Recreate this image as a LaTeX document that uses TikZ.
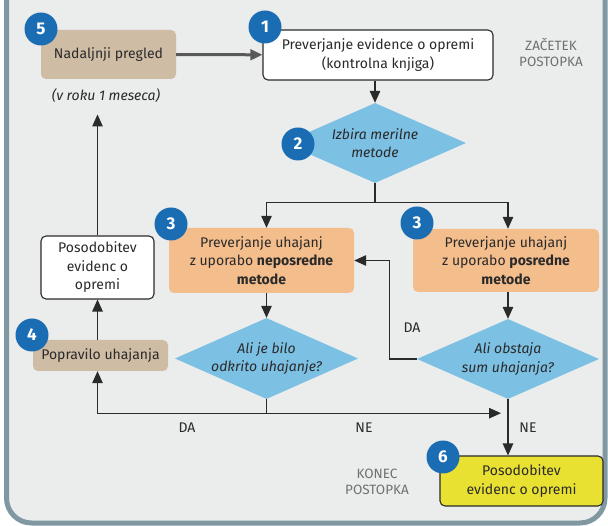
\documentclass[tikz,border=0pt]{standalone}
\usepackage{fontspec}
\setmainfont{Fira Sans}
\usetikzlibrary{arrows.meta}
\usetikzlibrary{shapes.geometric}

\definecolor{panel}{HTML}{EBECEC}
\definecolor{rim}{HTML}{7F98A2}
\definecolor{badgeblue}{HTML}{1A6DB3}
\definecolor{qblue}{HTML}{7CC0E4}
\definecolor{peach}{HTML}{F4BD8C}
\definecolor{tan}{HTML}{CEBCA5}
\definecolor{lemon}{HTML}{E9E132}
\definecolor{ink}{HTML}{2A2A2A}
\definecolor{mute}{HTML}{707070}

\tikzset{
  txt/.style={font=\fontsize{14}{18.5}\selectfont, text=ink, align=center},
  plain/.style={txt, draw=ink, line width=1.1pt, fill=white, rounded corners=5pt, inner sep=0pt},
  soft/.style={txt, fill=tan, rounded corners=5pt, inner sep=0pt},
  check/.style={txt, fill=peach, rounded corners=5pt, inner sep=0pt},
  final/.style={txt, draw=ink, line width=1.1pt, fill=lemon, rounded corners=5pt, inner sep=0pt},
  query/.style={diamond, fill=qblue, inner sep=0pt},
  qtext/.style={txt, font=\itshape\fontsize{14}{18.5}\selectfont},
  stage/.style={font=\fontsize{13.5}{16}\selectfont, text=mute, align=center},
  badge/.style={circle, fill=badgeblue, text=white, inner sep=0pt, minimum size=33pt,
    font=\bfseries\fontsize{17}{17}\selectfont},
  flow/.style={draw=ink, line width=1.2pt, ->}
}

\begin{document}
\begin{tikzpicture}[x=1pt, y=-1pt, >={Triangle[length=12pt,width=10.5pt]}]
        \useasboundingbox (0,0) rectangle (608,526);
        \begin{scope}
            \clip (0,0) rectangle (608,526);
            \draw[line width=5pt, draw=rim, fill=panel, rounded corners=25pt] (6.5,-40) rectangle (605,523);
        \end{scope}

        \draw (378,55) node[plain, minimum width=230pt, minimum height=50pt] (chk) {Preverjanje evidence o opremi\\(kontrolna knjiga)};
        \draw (108.5,54.5) node[soft, minimum width=135pt, minimum height=49pt] (nxt) {Nadaljnji pregled};
        \draw (106,96) node[qtext] (note) {(v roku 1 meseca)};

        \draw (375,143) node[query, minimum width=182pt, minimum height=80pt] (sel) {};
        \draw (sel) node[qtext] (selt) {Izbira merilne\\metode};

        \draw (261.5,260.5) node[check, minimum width=185pt, minimum height=65pt] (dir) {Preverjanje uhajanj\\z uporabo \textbf{neposredne}\\\textbf{metode}};
        \draw (506,260.5) node[check, minimum width=186pt, minimum height=63pt] (ind) {Preverjanje uhajanj\\z uporabo \textbf{posredne}\\\textbf{metode}};

        \draw (266.5,358.5) node[query, minimum width=183pt, minimum height=81pt] (qdir) {};
        \draw (qdir) node[qtext] (qdirt) {Ali je bilo\\odkrito uhajanje?};
        \draw (508,359) node[query, minimum width=182pt, minimum height=80pt] (qind) {};
        \draw (qind) node[qtext] (qindt) {Ali obstaja\\sum uhajanja?};

        \draw (100.5,355.5) node[soft, minimum width=135pt, minimum height=31pt] (fix) {Popravilo uhajanja};
        \draw (97.5,267.5) node[plain, minimum width=113pt, minimum height=63pt] (upd) {Posodobitev\\evidenc o\\opremi};
        \draw (521.5,481) node[final, minimum width=163pt, minimum height=50pt] (fin) {Posodobitev\\evidenc o opremi};

        \draw (551,52) node[stage] (begin) {ZAČETEK\\POSTOPKA};
        \draw (377,482) node[stage] (end) {KONEC\\POSTOPKA};

        % numbered steps
        \draw (41,29) node[badge] (b5) {5};
        \draw (265,27) node[badge] (b1) {1};
        \draw (298,144) node[badge] (b2) {2};
        \draw (171,224) node[badge] (b3a) {3};
        \draw (417,223) node[badge] (b3b) {3};
        \draw (32,335) node[badge] (b4) {4};
        \draw (443,457) node[badge] (b6) {6};

        \draw[->, draw=black!65, line width=3pt] (nxt) -- (chk);
        \draw[flow] (chk.south -| sel.north) -- (sel.north);

        \draw[draw=ink, line width=1.2pt] (sel.south) -- ++(0,19) coordinate (fork);
        \draw[flow] (fork) -| (dir.north -| qdir.north);
        \draw[flow] (fork) -| (ind.north -| qind.north);

        \draw[flow] (dir.south -| qdir.north) -- (qdir.north);
        \draw[flow] (ind.south -| qind.north) -- (qind.north);

        \draw[flow] (qind.west) -- ++(-27,0) |- (dir.east);
        \draw (412,328) node[txt] (da1) {DA};

        \draw[draw=ink, line width=1.2pt] (qdir.south) -- ++(0,14) coordinate (low);
        \draw[flow] (low) -| (fix.south -| upd.south);
        \draw[flow, shorten >=7pt] (low) -- (low -| qind.south);
        \draw (187,428) node[txt] (da2) {DA};
        \draw (364,428) node[txt] (ne1) {NE};

        \draw[flow] (qind.south) -- (fin.north -| qind.south);
        \draw (528,428) node[txt] (ne2) {NE};

        \draw[flow] (fix.north -| upd.south) -- (upd.south);
        \draw[flow, shorten >=8pt] (upd.north) -- (upd.north |- note.south);
    \end{tikzpicture}
\end{document}
